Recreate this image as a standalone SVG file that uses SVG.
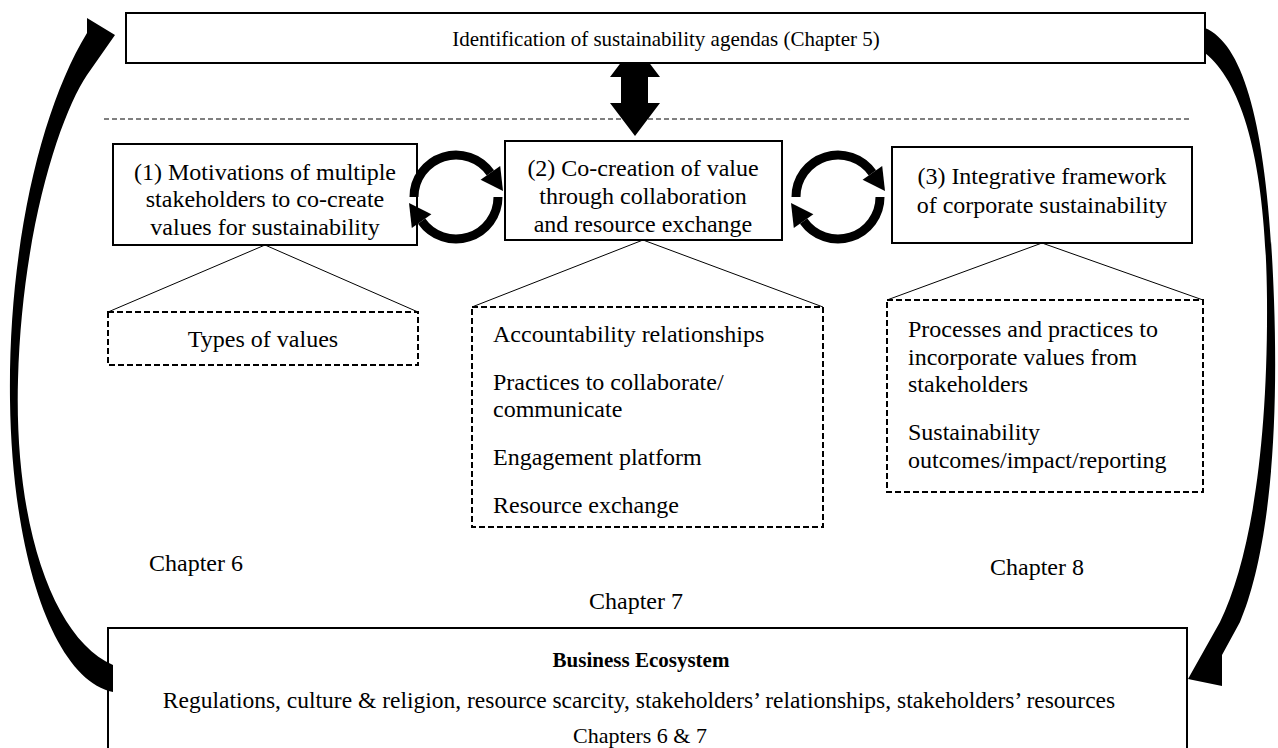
<svg xmlns="http://www.w3.org/2000/svg" width="1278" height="748" viewBox="0 0 1278 748">
  <style>
    text { font-family: "Liberation Serif", "Times New Roman", serif; font-size: 24px; fill: #000; }
    .c { text-anchor: middle; }
    .b { font-weight: bold; font-size: 21px; }
    .s21 { font-size: 21px; }
    .s23 { font-size: 23.5px; }
    .s22 { font-size: 22px; }
    .box { fill: #fff; stroke: #000; stroke-width: 2; }
    .dbox { fill: none; stroke: #000; stroke-width: 2; stroke-dasharray: 6 3; }
    .sep { fill: none; stroke: #000; stroke-width: 1; stroke-dasharray: 5 3; }
    .thin { fill: none; stroke: #000; stroke-width: 1; }
    .ring { fill: none; stroke: #000; stroke-width: 9; }
    .solid { fill: #000; stroke: none; }
  </style>

  <rect width="1278" height="748" fill="#fff"/>

  <!-- vertical two-way link to the agenda bar (drawn first, the bar covers its top) -->
  <g id="link-agenda">
    <polygon class="solid" points="635,44 660,77 648,77 648,103 660,103 635,136 610,103 621,103 621,77 610,77"/>
  </g>

  <g id="agenda">
    <rect class="box" x="126" y="13" width="1079" height="50"/>
    <text class="c s21" x="666" y="46">Identification of sustainability agendas (Chapter 5)</text>
  </g>

  <line class="sep" x1="104" y1="119" x2="1192" y2="119"/>

  <g id="motivations">
    <rect class="box" x="113" y="144" width="304" height="101"/>
    <text class="c" x="265" y="180">(1) Motivations of multiple</text>
    <text class="c" x="265" y="207">stakeholders to co-create</text>
    <text class="c" x="265" y="235">values for sustainability</text>
  </g>

  <g id="cocreation">
    <rect class="box" x="505" y="141" width="277" height="99"/>
    <text class="c" x="643" y="176">(2) Co-creation of value</text>
    <text class="c" x="643" y="204">through collaboration</text>
    <text class="c" x="643" y="232">and resource exchange</text>
  </g>

  <g id="framework">
    <rect class="box" x="892" y="147" width="300" height="96"/>
    <text class="c" x="1042" y="184">(3) Integrative framework</text>
    <text class="c" x="1042" y="213">of corporate sustainability</text>
  </g>

  <g id="values-detail">
    <rect class="dbox" x="108" y="312" width="310" height="53"/>
    <text class="c" x="263" y="347">Types of values</text>
  </g>

  <g id="cocreation-detail">
    <rect class="dbox" x="472" y="307" width="351" height="220"/>
    <text x="493" y="342">Accountability relationships</text>
    <text x="493" y="390">Practices to collaborate/</text>
    <text x="493" y="417">communicate</text>
    <text x="493" y="465">Engagement platform</text>
    <text x="493" y="513">Resource exchange</text>
  </g>

  <g id="framework-detail">
    <rect class="dbox" x="887" y="300" width="316" height="192"/>
    <text x="908" y="337">Processes and practices to</text>
    <text x="908" y="365">incorporate values from</text>
    <text x="908" y="392">stakeholders</text>
    <text x="908" y="440">Sustainability</text>
    <text x="908" y="468">outcomes/impact/reporting</text>
  </g>

  <g id="chapter-labels">
    <text class="c" x="196" y="571">Chapter 6</text>
    <text class="c" x="636" y="609">Chapter 7</text>
    <text class="c" x="1037" y="575">Chapter 8</text>
  </g>

  <g id="ecosystem">
    <rect class="box" x="108" y="628" width="1079" height="140"/>
    <text class="c b" x="641" y="667">Business Ecosystem</text>
    <text class="c s23" x="639" y="708">Regulations, culture &amp; religion, resource scarcity, stakeholders’ relationships, stakeholders’ resources</text>
    <text class="c s22" x="640" y="743">Chapters 6 &amp; 7</text>
  </g>

  <g id="connectors">
    <!-- fan-out lines from each stage to its detail box -->
    <polyline class="thin" points="108,312 265,245 418,312"/>
    <polyline class="thin" points="472,307 643,240 823,307"/>
    <polyline class="thin" points="887,300 1042,243 1203,300"/>

    <!-- cycle between stage 1 and stage 2 -->
    <path class="ring" d="M414,197 A42,42 0 0 1 490.4,172.9"/>
    <polygon class="solid" points="480.6,179.8 500.2,166 503,191"/>
    <path class="ring" d="M498,197 A42,42 0 0 1 421.6,221.1"/>
    <polygon class="solid" points="431.4,214.2 411.8,228 409,203"/>

    <!-- cycle between stage 2 and stage 3 -->
    <path class="ring" d="M796,197 A42,42 0 0 1 872.4,172.9"/>
    <polygon class="solid" points="862.6,179.8 882.2,166 885,191"/>
    <path class="ring" d="M880,197 A42,42 0 0 1 803.6,221.1"/>
    <polygon class="solid" points="813.4,214.2 793.8,228 791,203"/>

    <!-- feedback from the ecosystem up to the agenda bar -->
    <path class="solid" d="M113,692 C55,680 12,560 10,400 C8,250 40,110 87,33 L87,18 L115,35 L87,75 C60,115 22,230 18,380 C14,530 55,640 113,665 Z"/>

    <!-- agenda bar down to the ecosystem -->
    <path class="solid" d="M1205,28 C1245,45 1268,130 1274,300 C1280,470 1262,570 1240,622 L1222,655 L1222,686 L1188,679 L1220,622 C1250,560 1268,450 1267,300 C1266,170 1245,85 1205,53 Z"/>
  </g>
</svg>
